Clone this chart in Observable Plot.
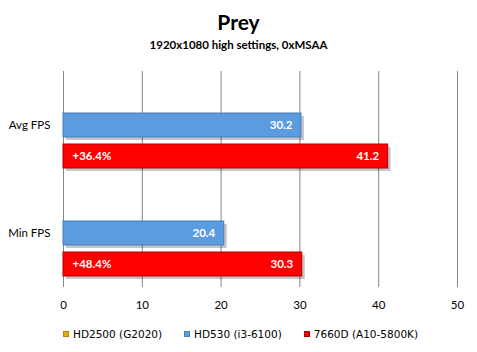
<!DOCTYPE html>
<html>
<head>
<meta charset="utf-8">
<script src="https://cdn.jsdelivr.net/npm/d3@7"></script>
<script src="https://cdn.jsdelivr.net/npm/@observablehq/plot@0.6"></script>
<style>
  html, body { margin: 0; padding: 0; background: #fff; }
  #wrap { width: 477px; height: 352px; position: relative; font-family: Lato, "Open Sans", sans-serif; color: #000; }
  #title { position: absolute; top: 9px; left: 0; width: 477px; text-align: center; font-weight: bold; font-size: 21px; line-height: 26px; }
  #subtitle { position: absolute; top: 37px; left: 0; width: 477px; text-align: center; font-weight: bold; font-size: 11.5px; line-height: 15px; }
  #chart { position: absolute; top: 55px; left: 0; }
  #legend { position: absolute; top: 327px; left: 63px; display: flex; font-family: "DejaVu Sans", sans-serif; font-size: 10.5px; line-height: 14px; white-space: nowrap; }
  .item { display: flex; align-items: center; }
  .sw { width: 6px; height: 6px; margin-right: 4px; box-sizing: border-box; border: 1px solid; }
</style>
</head>
<body>
<div id="wrap">
  <div id="title">Prey</div>
  <div id="subtitle">1920x1080 high settings, 0xMSAA</div>
  <div id="chart"></div>
  <div id="legend"></div>
</div>
<script>
const categories = ["Avg FPS", "Min FPS"];
const seriesNames = ["HD2500 (G2020)", "HD530 (i3-6100)", "7660D (A10-5800K)"];
const hd2500 = [null, null];
const hd530 = [30.2, 20.4];
const a10 = [41.2, 30.3];
const gains = ["+36.4%", "+48.4%"];
const xTicks = [0, 10, 20, 30, 40, 50];
const fills = ["#e0b000", "#5b9bdf", "#ff0000"];
const strokes = ["#b8860b", "#4a7ebb", "#b00000"];

const seriesValues = [hd2500, hd530, a10];
const rows = [];
categories.forEach((c, i) => {
  seriesNames.forEach((s, j) => {
    const v = seriesValues[j][i];
    if (v != null) rows.push({category: c, series: s, value: v});
  });
});
const gainRows = categories.map((c, i) => ({category: c, series: seriesNames[2], label: gains[i]}));

const plot = Plot.plot({
  width: 477,
  height: 262,
  marginTop: 15,
  marginBottom: 30,
  marginLeft: 63,
  marginRight: 20,
  style: {fontFamily: "Lato, 'Open Sans', sans-serif", fontSize: "11.5px", color: "#000", background: "transparent"},
  x: {domain: [0, 50], ticks: xTicks, label: null, tickSize: 0, tickPadding: 13},
  y: {domain: seriesNames, paddingInner: 0.234, paddingOuter: 0.312, axis: null},
  fy: {domain: categories, padding: 0, label: null, tickSize: 0, tickPadding: 13},
  color: {domain: seriesNames, range: fills},
  marks: [
    Plot.gridX(xTicks, {stroke: "#868686", strokeOpacity: 1}),
    Plot.barX(rows, {x: "value", y: "series", fy: "category", fill: "#000", fillOpacity: 0.22, dx: 3, dy: 3}),
    Plot.barX(rows, {x: "value", y: "series", fy: "category", fill: "series",
      stroke: d => strokes[seriesNames.indexOf(d.series)], strokeWidth: 1}),
    Plot.text(rows, {x: "value", y: "series", fy: "category", text: d => d.value.toFixed(1),
      textAnchor: "end", dx: -9, fill: "#fff", fontWeight: "bold", fontSize: 11.5}),
    Plot.text(gainRows, {x: 0, y: "series", fy: "category", text: "label",
      textAnchor: "start", dx: 9, fill: "#fff", fontWeight: "bold", fontSize: 11.5})
  ]
});
document.getElementById("chart").appendChild(plot);

const legend = document.getElementById("legend");
seriesNames.forEach((s, j) => {
  const it = document.createElement("div");
  it.className = "item";
  if (j > 0) it.style.marginLeft = "22px";
  const sw = document.createElement("span");
  sw.className = "sw";
  sw.style.background = fills[j];
  sw.style.borderColor = strokes[j];
  const t = document.createElement("span");
  t.textContent = s;
  it.appendChild(sw);
  it.appendChild(t);
  legend.appendChild(it);
});
</script>
</body>
</html>
